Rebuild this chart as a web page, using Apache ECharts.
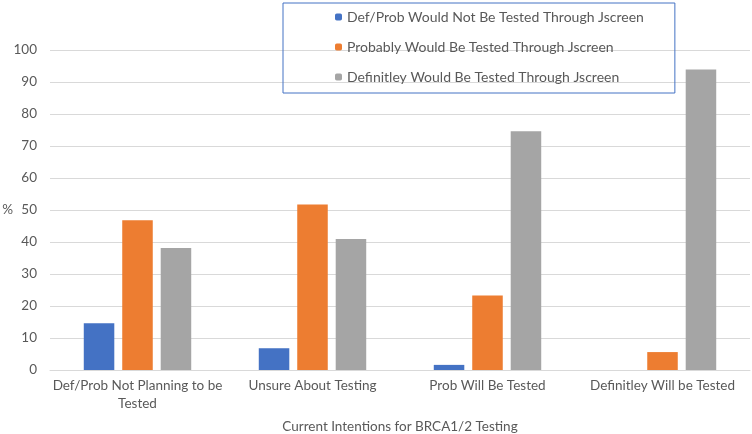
<!DOCTYPE html>
<html><head><meta charset="utf-8">
<script src="https://cdn.jsdelivr.net/npm/echarts@6/dist/echarts.min.js"></script>
<style>html,body{margin:0;padding:0;background:#fff}#c{width:752px;height:434px}</style>
</head><body><div id="c"></div>
<script>
const categories = ['Def/Prob Not Planning to be\nTested', 'Unsure About Testing', 'Prob Will Be Tested', 'Definitley Will be Tested'];
const seriesNames = ['Def/Prob Would Not Be Tested Through Jscreen', 'Probably Would Be Tested Through Jscreen', 'Definitley Would Be Tested Through Jscreen'];
const wouldNot = [14.6, 6.8, 1.6, 0];
const probably = [46.8, 51.7, 23.3, 5.6];
const definitely = [38.1, 40.9, 74.6, 93.9];
const colors = ['#4472C4', '#ED7D31', '#A5A5A5'];
const F = 'Lato, "Open Sans", sans-serif';
const chart = echarts.init(document.getElementById('c'));
const vals = [wouldNot, probably, definitely];
chart.setOption({
  animation: false,
  textStyle: {fontFamily: F},
  grid: {left: 50, right: 2, top: 50, bottom: 64, containLabel: false, outerBoundsMode: 'none'},
  legend: {
    orient: 'vertical', left: 283, top: 3,
    borderColor: '#4472C4', borderWidth: 1,
    padding: [7, 31, 9, 52],
    itemWidth: 7, itemHeight: 7, itemGap: 16,
    textStyle: {fontFamily: F, fontSize: 14, color: '#595959'},
    data: seriesNames
  },
  xAxis: {
    type: 'category', data: categories,
    name: 'Current Intentions for BRCA1/2 Testing', nameLocation: 'middle', nameGap: 50,
    nameMoveOverlap: false,
    nameTextStyle: {fontFamily: F, fontSize: 13.5, color: '#595959'},
    axisLine: {lineStyle: {color: '#d9d9d9'}}, axisTick: {show: false},
    axisLabel: {fontFamily: F, fontSize: 13.5, color: '#595959', margin: 7, lineHeight: 18, interval: 0}
  },
  yAxis: {
    type: 'value', min: 0, max: 100, interval: 10,
    name: '%', nameLocation: 'middle', nameRotate: 0, nameGap: 37,
    nameMoveOverlap: false,
    nameTextStyle: {fontFamily: F, fontSize: 13.5, color: '#595959'},
    axisLine: {show: false}, axisTick: {show: false},
    axisLabel: {fontFamily: F, fontSize: 13.5, color: '#595959', margin: 13},
    splitLine: {lineStyle: {color: '#d9d9d9'}}
  },
  series: seriesNames.map((n, i) => ({
    name: n, type: 'bar', data: vals[i],
    itemStyle: {color: colors[i]},
    barGap: '26%', barCategoryGap: '38.6%'
  }))
});
</script></body></html>
